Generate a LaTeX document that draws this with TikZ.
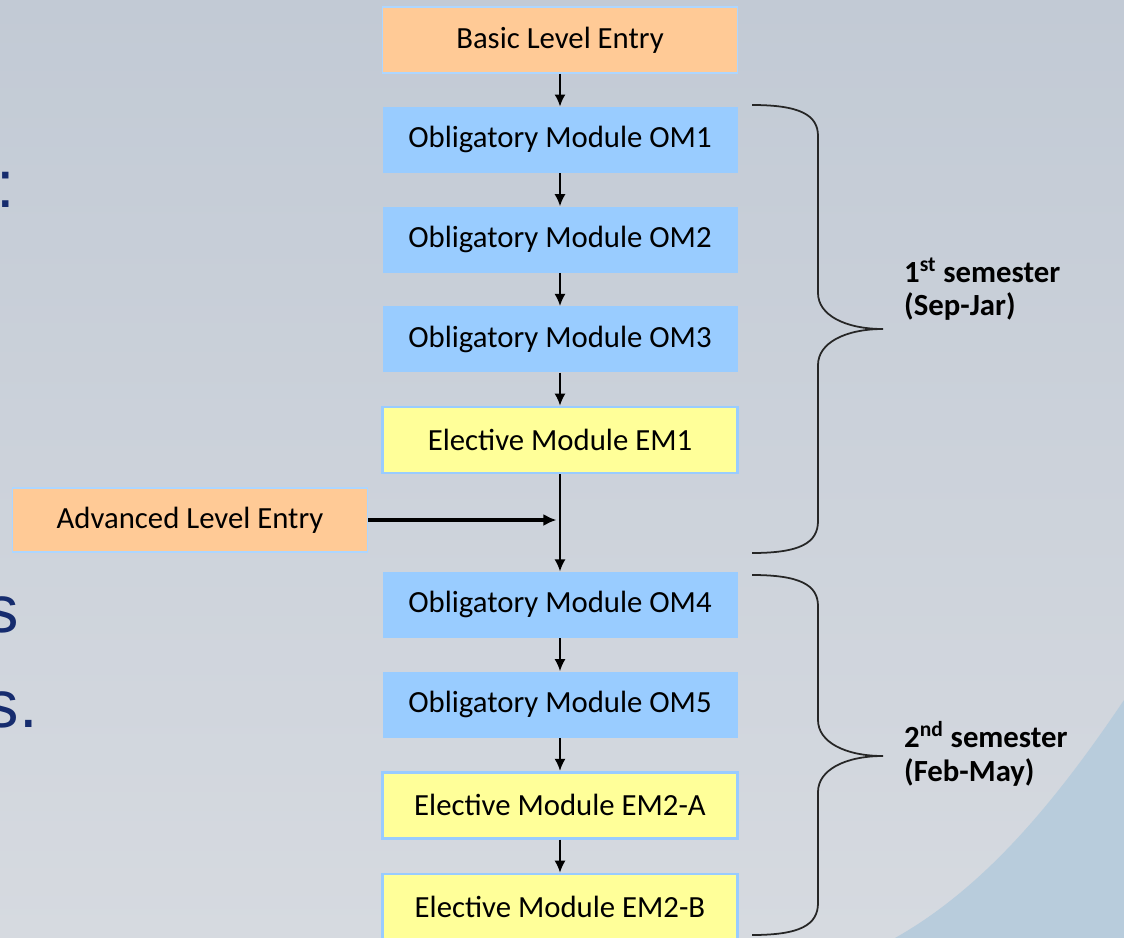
\documentclass[tikz,border=0pt]{standalone}
\usepackage{fontspec}
\setmainfont{Carlito}
\setsansfont{Liberation Sans}
\usepackage{tikz}
\usetikzlibrary{positioning, arrows.meta}
\definecolor{slideTop}{RGB}{194,202,213}
\definecolor{slideBottom}{RGB}{214,218,224}
\definecolor{skyBlue}{RGB}{184,204,220}
\definecolor{entryOrange}{RGB}{255,202,150}
\definecolor{moduleBlue}{RGB}{153,204,255}
\definecolor{electYellow}{RGB}{255,255,153}
\definecolor{slideNavy}{RGB}{22,44,110}
\newcommand{\semesterbrace}[3]{%
  \draw[bracestroke] (15.04,#1) .. controls (16.0,#1) and (16.36,#1-0.2) .. (16.36,#1-0.62)
    -- (16.36,#2+0.72) .. controls (16.36,#2+0.28) and (16.9,#2) .. (17.66,#2)
    .. controls (16.9,#2) and (16.36,#2-0.28) .. (16.36,#2-0.72)
    -- (16.36,#3+0.64) .. controls (16.36,#3+0.2) and (16.0,#3) .. (15.04,#3);
}
\begin{document}
\begin{tikzpicture}[font=\fontsize{17.5}{21}\selectfont,
  box/.style={minimum width=7.1cm, minimum height=1.32cm, inner sep=0pt, text=black},
  entry/.style={box, fill=entryOrange, draw=moduleBlue!80, line width=0.6pt},
  oblig/.style={box, fill=moduleBlue},
  elect/.style={box, fill=electYellow, draw=moduleBlue, line width=1.6pt},
  flow/.style={line width=1pt, -{Latex[length=2.4mm, width=2.2mm]}},
  feed/.style={line width=1.8pt, -{Latex[length=2.6mm, width=2.4mm]}, shorten >=2pt},
  bracestroke/.style={line width=1pt, black!85},
  semester/.style={anchor=west, align=left, font=\fontsize{17.5}{19}\selectfont\bfseries},
  cutoff/.style={anchor=base west, inner sep=0pt, text=slideNavy, font=\sffamily\fontsize{38}{40}\selectfont},
  node distance=0.66cm]
  \useasboundingbox (0,0) rectangle (22.48,-18.76);
  % slide background
  \shade[top color=slideTop, bottom color=slideBottom] (0,0) rectangle (22.48,-18.76);
  \fill[skyBlue] (22.48,-14.0) .. controls (21.0,-16.2) and (19.6,-17.8) .. (17.9,-18.76) -- (22.48,-18.76) -- cycle;
  % cut-off slide text on the left
  \node[cutoff] (colon) at (-0.07,-4.14) {:};
  \node[cutoff] (lineS) at (-0.29,-12.64) {s};
  \node[cutoff] (lineSdot) at (-0.29,-14.54) {s.};
  % module chain
  \node[entry] (basic) at (11.2,-0.8) {Basic Level Entry};
  \node[oblig, below=of basic] (om1) {Obligatory Module OM1};
  \node[oblig, below=of om1] (om2) {Obligatory Module OM2};
  \node[oblig, below=of om2] (om3) {Obligatory Module OM3};
  \node[elect, below=of om3] (em1) {Elective Module EM1};
  \node[oblig, below=1.94cm of em1] (om4) {Obligatory Module OM4};
  \node[oblig, below=of om4] (om5) {Obligatory Module OM5};
  \node[elect, below=of om5] (em2a) {Elective Module EM2-A};
  \node[elect, below=of em2a] (em2b) {Elective Module EM2-B};
  \node[entry, minimum height=1.28cm] (adv) at (3.8,-10.4) {Advanced Level Entry};
  % arrows
  \foreach \from/\to in {basic/om1, om1/om2, om2/om3, om3/em1, em1/om4, om4/om5, om5/em2a, em2a/em2b}
    \draw[flow] (\from) -- (\to);
  \draw[feed] (adv.east) -- (adv.east -| em1.south);
  % semester braces
  \semesterbrace{-2.1}{-6.58}{-11.06}
  \semesterbrace{-11.5}{-15.12}{-18.7}
  \node[semester] (sem1) at (17.96,-5.78) {1\textsuperscript{st} semester\\(Sep-Jar)};
  \node[semester] (sem2) at (17.96,-15.08) {2\textsuperscript{nd} semester\\(Feb-May)};
\end{tikzpicture}
\end{document}
